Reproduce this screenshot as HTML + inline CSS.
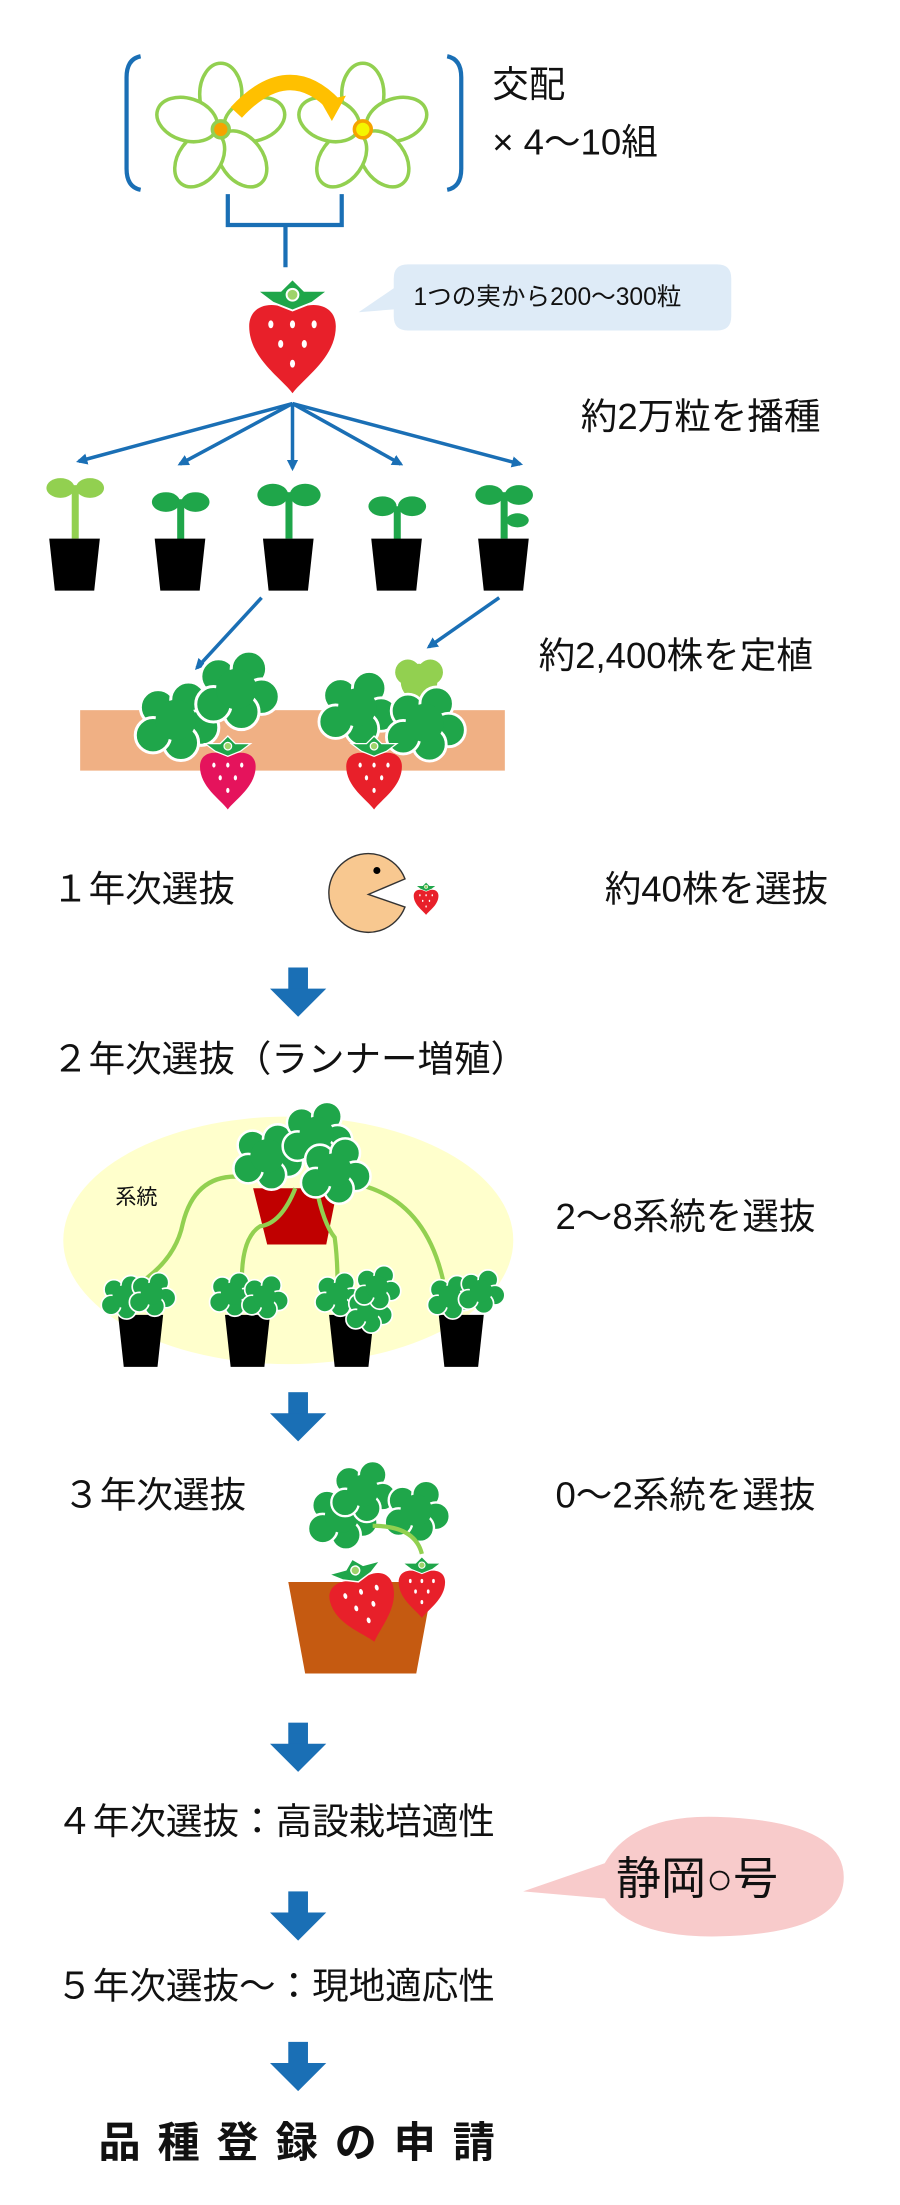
<!DOCTYPE html>
<html><head><meta charset="utf-8"><style>
html,body{margin:0;padding:0;background:#fff}
svg{display:block}
text{font-family:"Liberation Sans","Noto Sans CJK JP",sans-serif;fill:#111}
</style></head><body>
<svg width="900" height="2205" viewBox="0 0 640 1568" xmlns="http://www.w3.org/2000/svg">
<defs>
<g id="leaf">
 <g fill="#1fa64a" stroke="#fff" stroke-width="1.2">
  <circle cx="-7" cy="-5" r="7"/><circle cx="5" cy="-8" r="7"/><circle cx="10" cy="3" r="7"/>
  <circle cx="2" cy="9" r="7"/><circle cx="-9" cy="6" r="7"/><circle cx="0" cy="0" r="8" stroke="none"/>
 </g>
</g>
<g id="berry">
 <path d="M0,34 C-6,26 -22,16 -22,0 C-22,-10 -12,-14 0,-8 C12,-14 22,-10 22,0 C22,16 6,26 0,34Z" />
 <g fill="#fff"><ellipse cx="-11" cy="-1" rx="1.3" ry="2"/><ellipse cx="0" cy="-1" rx="1.3" ry="2"/><ellipse cx="11" cy="-1" rx="1.3" ry="2"/>
 <ellipse cx="-6" cy="9" rx="1.3" ry="2"/><ellipse cx="6" cy="9" rx="1.3" ry="2"/><ellipse cx="0" cy="19" rx="1.3" ry="2"/></g>
 <path d="M-18,-18 L-6,-18 L0,-24 L6,-18 L18,-18 L10,-12 L0,-8 L-10,-12Z" fill="#1fa64a" stroke="#fff" stroke-width="1"/>
 <circle cx="0" cy="-16" r="3" fill="#9ed36a" stroke="#fff" stroke-width="1"/>
</g>
<marker id="ah" markerWidth="8" markerHeight="8" refX="6" refY="4" orient="auto" markerUnits="userSpaceOnUse"><path d="M0,0 L8,4 L0,8Z" fill="#1a6fb5"/></marker>
<g id="barr"><rect x="-7" y="0" width="14" height="17" fill="#1a6fb5"/><path d="M-20,15 L20,15 L0,35Z" fill="#1a6fb5"/></g>
</defs>

<path d="M100,40 Q90,42 90,55 L90,120 Q90,133 100,135" fill="none" stroke="#1a6fb5" stroke-width="3"/>
<path d="M318,40 Q328,42 328,55 L328,120 Q328,133 318,135" fill="none" stroke="#1a6fb5" stroke-width="3"/>
<g fill="#fff" stroke="#92d050" stroke-width="2.5">
 <g transform="translate(157,92)">
  <ellipse cx="0" cy="-25" rx="15" ry="22"/><ellipse cx="24" cy="-7" rx="15" ry="22" transform="rotate(72 24 -7)"/>
  <ellipse cx="15" cy="21" rx="15" ry="22" transform="rotate(144 15 21)"/><ellipse cx="-15" cy="21" rx="15" ry="22" transform="rotate(216 -15 21)"/>
  <ellipse cx="-24" cy="-7" rx="15" ry="22" transform="rotate(288 -24 -7)"/>
  <circle r="6" fill="#f5a300"/>
 </g>
 <g transform="translate(258,92)">
  <ellipse cx="0" cy="-25" rx="15" ry="22"/><ellipse cx="24" cy="-7" rx="15" ry="22" transform="rotate(72 24 -7)"/>
  <ellipse cx="15" cy="21" rx="15" ry="22" transform="rotate(144 15 21)"/><ellipse cx="-15" cy="21" rx="15" ry="22" transform="rotate(216 -15 21)"/>
  <ellipse cx="-24" cy="-7" rx="15" ry="22" transform="rotate(288 -24 -7)"/>
  <circle r="6" fill="#f5f500" stroke="#f5a300"/>
 </g>
</g>
<path d="M168,80 Q205,40 238,75" fill="none" stroke="#ffc000" stroke-width="11"/>
<path d="M228,72 L246,68 L236,86Z" fill="#ffc000"/>
<text x="350" y="69" font-size="26">交配</text>
<text x="350" y="110" font-size="26">× 4〜10組</text>
<path d="M162,138 L162,160 L243,160 L243,138 M203,160 L203,190" fill="none" stroke="#1a6fb5" stroke-width="3"/>
<g transform="translate(208,232) scale(1.4)" fill="#e8202a"><use href="#berry"/></g>
<path d="M288,188 H510 Q520,188 520,198 V225 Q520,235 510,235 H290 Q280,235 280,225 V220 L255,222 L280,205 V198 Q280,188 290,188Z" fill="#deebf7"/>
<text x="294" y="217" font-size="17.5">1つの実から200〜300粒</text>
<text x="413" y="305" font-size="26">約2万粒を播種</text>
<g stroke="#1a6fb5" stroke-width="2.5" marker-end="url(#ah)">
 <line x1="208" y1="287" x2="56" y2="328"/><line x1="208" y1="287" x2="128" y2="330"/>
 <line x1="208" y1="287" x2="208" y2="333"/><line x1="208" y1="287" x2="285" y2="330"/>
 <line x1="208" y1="287" x2="370" y2="330"/>
</g>
<g>
 <g transform="translate(53,0)"><rect x="-2" y="345" width="5" height="38" fill="#92d050"/><ellipse cx="-10" cy="347" rx="10" ry="7" fill="#92d050"/><ellipse cx="11" cy="347" rx="10" ry="7" fill="#92d050"/><path d="M-18,383 H18 L14,420 H-14Z" fill="#000"/></g>
 <g transform="translate(128,0)"><rect x="-2" y="355" width="5" height="30" fill="#1fa64a"/><ellipse cx="-10" cy="357" rx="10" ry="7" fill="#1fa64a"/><ellipse cx="11" cy="357" rx="10" ry="7" fill="#1fa64a"/><path d="M-18,383 H18 L14,420 H-14Z" fill="#000"/></g>
 <g transform="translate(205,0)"><rect x="-2" y="350" width="5" height="33" fill="#1fa64a"/><ellipse cx="-11" cy="352" rx="11" ry="8" fill="#1fa64a"/><ellipse cx="12" cy="352" rx="11" ry="8" fill="#1fa64a"/><path d="M-18,383 H18 L14,420 H-14Z" fill="#000"/></g>
 <g transform="translate(282,0)"><rect x="-2" y="360" width="5" height="25" fill="#1fa64a"/><ellipse cx="-10" cy="360" rx="10" ry="7" fill="#1fa64a"/><ellipse cx="11" cy="360" rx="10" ry="7" fill="#1fa64a"/><path d="M-18,383 H18 L14,420 H-14Z" fill="#000"/></g>
 <g transform="translate(358,0)"><rect x="-2" y="350" width="5" height="33" fill="#1fa64a"/><ellipse cx="-10" cy="352" rx="10" ry="7" fill="#1fa64a"/><ellipse cx="11" cy="352" rx="10" ry="7" fill="#1fa64a"/><ellipse cx="10" cy="370" rx="8" ry="5" fill="#1fa64a"/><path d="M-18,383 H18 L14,420 H-14Z" fill="#000"/></g>
</g>
<g stroke="#1a6fb5" stroke-width="2.5" marker-end="url(#ah)">
 <line x1="186" y1="425" x2="140" y2="475"/><line x1="355" y1="425" x2="305" y2="460"/>
</g>
<text x="383" y="475" font-size="26">約2,400株を定植</text>
<rect x="57" y="505" width="302" height="43" fill="#f0b084"/>
<g transform="translate(125,512) scale(1.8)"><use href="#leaf"/></g>
<g transform="translate(168,490) scale(1.8)"><use href="#leaf"/></g>
<g transform="translate(298,485)"><g fill="#92d050"><circle r="13"/><circle cx="-8" cy="-7" r="9"/><circle cx="8" cy="-7" r="9"/></g></g>
<g transform="translate(254,503) scale(1.7)"><use href="#leaf"/></g>
<g transform="translate(302,514) scale(1.7)"><use href="#leaf"/></g>
<g transform="translate(162,545) scale(0.9)" fill="#e5135c"><use href="#berry"/></g>
<g transform="translate(266,545) scale(0.9)" fill="#e8202a"><use href="#berry"/></g>
<text x="37" y="641" font-size="26">１年次選抜</text>
<path d="M288,625 A28,28 0 1 0 288,645 L262,636Z" fill="#f8c890" stroke="#333" stroke-width="1"/>
<circle cx="268" cy="619" r="2.5" fill="#000"/>
<g transform="translate(303,637) scale(0.4)" fill="#e8202a"><use href="#berry"/></g>
<text x="430" y="641" font-size="26">約40株を選抜</text>
<use href="#barr" transform="translate(212,688)"/>
<text x="37" y="762" font-size="26">２年次選抜（ランナー増殖）</text>
<ellipse cx="205" cy="882" rx="160" ry="88" fill="#ffffcc"/>
<text x="82" y="856" font-size="15">系統</text>
<path d="M180,845 H240 L232,885 H190Z" fill="#c00000"/>
<g fill="none" stroke="#92d050" stroke-width="3">
 <path d="M180,838 Q140,830 130,870 Q125,895 100,912"/><path d="M210,845 Q200,870 185,872 Q172,880 172,910"/>
 <path d="M225,845 Q230,870 238,880 Q240,895 240,912"/><path d="M240,840 Q300,845 315,910"/>
</g>
<g transform="translate(190,822) scale(1.5)"><use href="#leaf"/></g>
<g transform="translate(225,806) scale(1.5)"><use href="#leaf"/></g>
<g transform="translate(238,832) scale(1.5)"><use href="#leaf"/></g>
<g fill="#000">
 <path d="M84,935 H116 L112,972 H88Z"/><path d="M160,935 H192 L188,972 H164Z"/>
 <path d="M234,935 H266 L262,972 H238Z"/><path d="M312,935 H344 L340,972 H316Z"/>
</g>
<g transform="translate(88,922)"><use href="#leaf"/></g><g transform="translate(108,920)"><use href="#leaf"/></g>
<g transform="translate(165,920)"><use href="#leaf"/></g><g transform="translate(188,922)"><use href="#leaf"/></g>
<g transform="translate(240,920)"><use href="#leaf"/></g><g transform="translate(262,932)"><use href="#leaf"/></g><g transform="translate(268,915)"><use href="#leaf"/></g>
<g transform="translate(320,922)"><use href="#leaf"/></g><g transform="translate(342,918)"><use href="#leaf"/></g>
<text x="395" y="874" font-size="26">2〜8系統を選抜</text>
<use href="#barr" transform="translate(212,990)"/>
<text x="45" y="1072" font-size="26">３年次選抜</text>
<text x="395" y="1072" font-size="26">0〜2系統を選抜</text>
<path d="M205,1125 H308 L296,1190 H217Z" fill="#c55a11"/>
<g transform="translate(243,1078) scale(1.5)"><use href="#leaf"/></g>
<g transform="translate(258,1060) scale(1.4)"><use href="#leaf"/></g>
<g transform="translate(296,1074) scale(1.4)"><use href="#leaf"/></g>
<path d="M265,1085 Q295,1085 300,1105" fill="none" stroke="#92d050" stroke-width="3"/>
<g transform="translate(257,1133) rotate(-15) scale(1.05)" fill="#e8202a"><use href="#berry"/></g>
<g transform="translate(300,1125) scale(0.75)" fill="#e8202a"><use href="#berry"/></g>
<use href="#barr" transform="translate(212,1225)"/>
<text x="40" y="1304" font-size="26">４年次選抜：高設栽培適性</text>
<path d="M430,1325 Q450,1290 510,1292 Q600,1295 600,1335 Q600,1375 510,1377 Q450,1378 430,1350 L372,1345Z" fill="#f8cbcb"/>
<text x="438" y="1347" font-size="32">静岡○号</text>
<use href="#barr" transform="translate(212,1345)"/>
<text x="40" y="1421" font-size="26">５年次選抜〜：現地適応性</text>
<use href="#barr" transform="translate(212,1452)"/>
<text x="70" y="1534" font-size="30" font-weight="bold" letter-spacing="12">品種登録の申請</text>
</svg>
</body></html>
